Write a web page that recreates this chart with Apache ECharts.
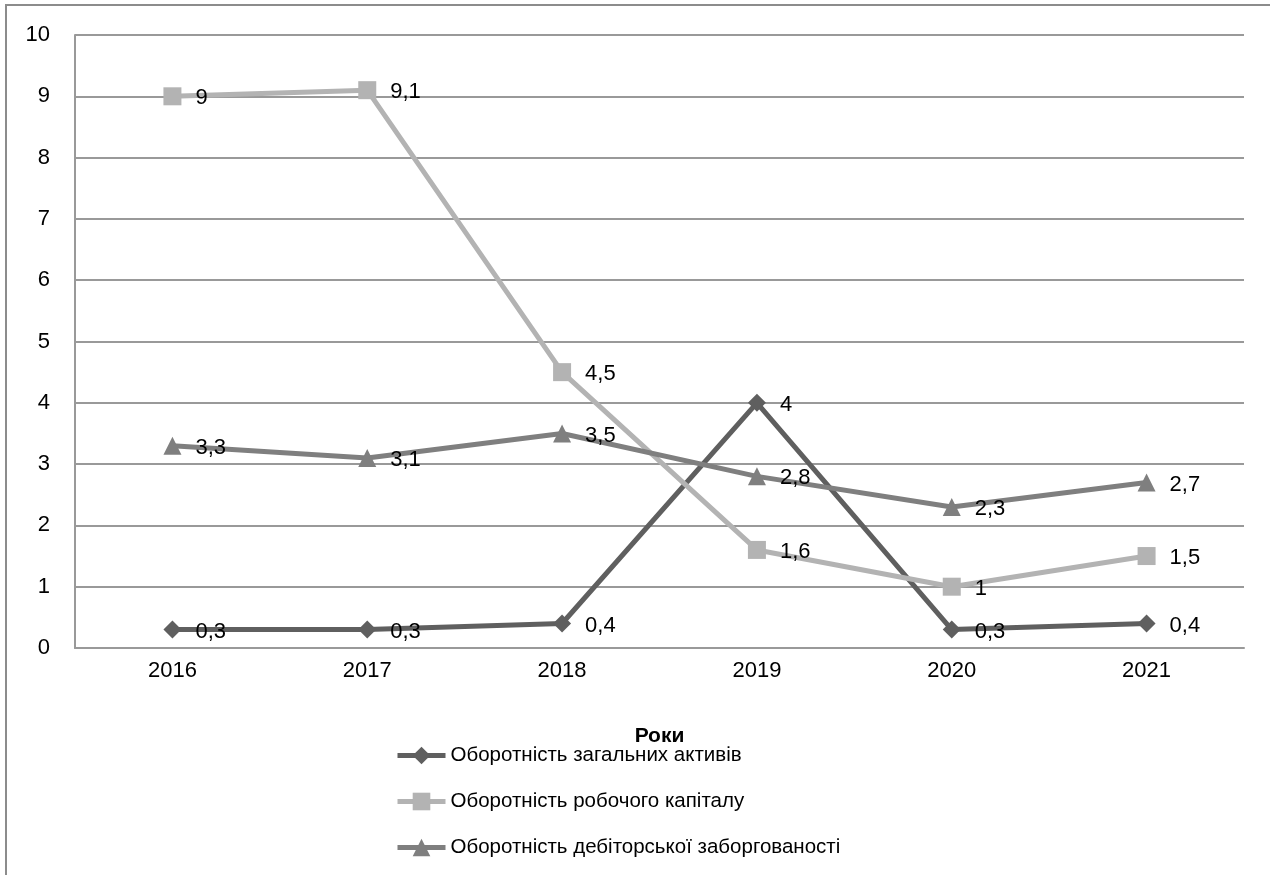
<!DOCTYPE html>
<html><head><meta charset="utf-8">
<script src="https://cdn.jsdelivr.net/npm/echarts@6/dist/echarts.min.js"></script>
<style>html,body{margin:0;padding:0;background:#fff}#c{width:1270px;height:875px}</style>
</head><body><div id="c"></div>
<script>
const categories = ['2016','2017','2018','2019','2020','2021'];
const seriesNames = ['Оборотність загальних активів','Оборотність робочого капіталу','Оборотність дебіторської заборгованості'];
const totalAssets = [0.3, 0.3, 0.4, 4, 0.3, 0.4];
const workingCapital = [9, 9.1, 4.5, 1.6, 1, 1.5];
const receivables = [3.3, 3.1, 3.5, 2.8, 2.3, 2.7];
const yTicks = [0,1,2,3,4,5,6,7,8,9,10];
const xAxisName = 'Роки';

const FONT = 'Liberation Sans';
const FS = 22;
const chart = echarts.init(document.getElementById('c'), null, {renderer:'canvas'});
function mk(name, data, color, symbol, size){
  return {
    name, type:'line', data, symbol, symbolSize:size,
    lineStyle:{color, width:5}, itemStyle:{color},
    label:{show:true, position:'right', distance:14, offset:[0,2], color:'#000', fontFamily:FONT, fontSize:FS,
      formatter:p=>String(p.value).replace('.',',')},
    emphasis:{disabled:true}, animation:false
  };
}
chart.setOption({
  animation:false,
  textStyle:{fontFamily:FONT},
  graphic:[{type:'rect', shape:{x:6, y:5, width:1300, height:900}, style:{fill:'none', stroke:'#8c8c8c', lineWidth:2}, silent:true}],
  grid:{left:75, top:35, right:26, bottom:227, containLabel:false},
  xAxis:{type:'category', data:categories, boundaryGap:true,
    name:xAxisName, nameLocation:'middle', nameGap:78,
    nameTextStyle:{fontFamily:FONT, fontSize:21, fontWeight:'bold', color:'#000'},
    axisLine:{show:true, lineStyle:{color:'#999', width:2}}, axisTick:{show:false},
    axisLabel:{color:'#000', fontSize:FS, fontFamily:FONT, margin:12}},
  yAxis:{type:'value', min:0, max:10, interval:1,
    axisLine:{show:true, lineStyle:{color:'#999', width:2}}, axisTick:{show:false},
    splitLine:{lineStyle:{color:'#999', width:2}},
    axisLabel:{color:'#000', fontSize:FS, fontFamily:FONT, margin:25,
      formatter:v=>yTicks.includes(v)?String(v):''}},
  legend:{orient:'vertical', left:395, top:745, height:130, padding:0, itemWidth:48, itemHeight:22, itemGap:25,
    lineStyle:{width:5},
    textStyle:{color:'#000', fontSize:20.5, fontFamily:FONT}, selectedMode:false,
    data:seriesNames},
  series:[
    mk(seriesNames[0], totalAssets, '#5f5f5f', 'diamond', 18),
    mk(seriesNames[1], workingCapital, '#b3b3b3', 'rect', 18),
    mk(seriesNames[2], receivables, '#7f7f7f', 'triangle', 18)
  ]
});
</script></body></html>
